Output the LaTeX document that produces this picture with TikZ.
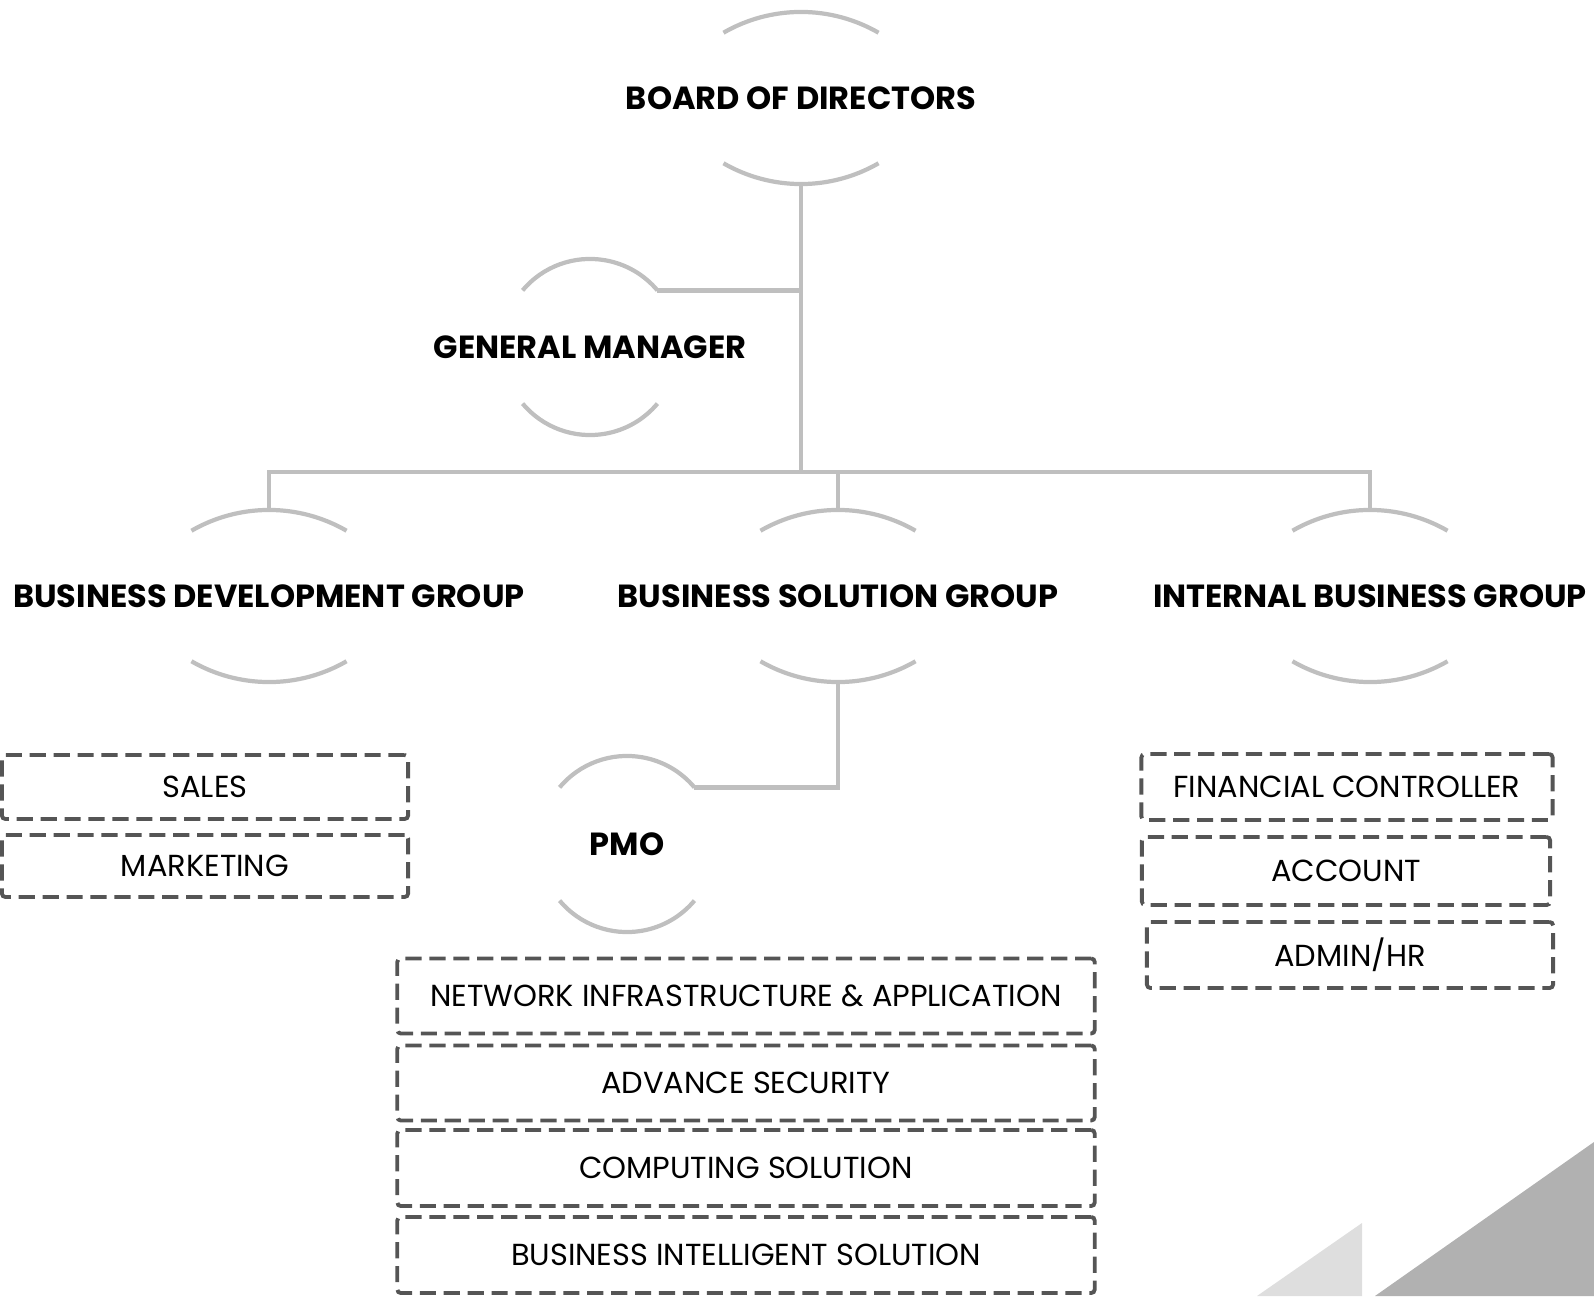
\documentclass[tikz,border=0pt]{standalone}
\usepackage{fontspec}
\setmainfont{Poppins}
\usepackage{tikz}

\definecolor{linkgray}{HTML}{BFBFBF}
\definecolor{boxgray}{HTML}{555555}
\definecolor{paletri}{HTML}{DEDEDE}
\definecolor{darktri}{HTML}{B1B1B1}

\begin{document}
\begin{tikzpicture}[x=0.01cm,y=0.01cm,
  widehead/.style={minimum width=1.56cm,minimum height=1.72cm,inner sep=0pt,outer sep=0pt,
    font=\bfseries\fontsize{9.1}{11}\selectfont},
  roundhead/.style={circle,minimum size=1.76cm,inner sep=0pt,outer sep=0pt},
  headtext/.style={font=\bfseries\fontsize{9.1}{11}\selectfont},
  arcline/.style={draw=linkgray,line width=1.2pt},
  link/.style={draw=linkgray,line width=1.2pt},
  unit/.style={draw=boxgray,line width=1.1pt,dash pattern=on 4.6pt off 2.2pt,
    rounded corners=1pt,inner sep=0pt,font=\fontsize{8.65}{10}\selectfont}]
\useasboundingbox (0,0) rectangle (1594,1296);
\fill[paletri] (1257,0) -- (1362,73) -- (1362,0) -- cycle;
\fill[darktri] (1375,0) -- (1594,154) -- (1594,0) -- cycle;
\node[widehead] (bod) at (801,1198) {BOARD OF DIRECTORS};
\node[roundhead,label={[headtext]center:GENERAL MANAGER}] (gm) at (590,949) {};
\node[widehead] (bdg) at (269,700) {BUSINESS DEVELOPMENT GROUP};
\node[widehead] (bsg) at (838,700) {BUSINESS SOLUTION GROUP};
\node[widehead] (ibg) at (1370,700) {INTERNAL BUSINESS GROUP};
\node[roundhead,label={[headtext]center:PMO}] (pmo) at (627,452) {};
\coordinate (bus) at (801,824);
\foreach \n in {bod,bdg,bsg,ibg}{
  \draw[arcline] (\n.north) arc[start angle=90,end angle=60,radius=1.55cm]
                 (\n.north) arc[start angle=90,end angle=120,radius=1.55cm];
  \draw[arcline] (\n.south) arc[start angle=270,end angle=240,radius=1.55cm]
                 (\n.south) arc[start angle=270,end angle=300,radius=1.55cm];
}
\foreach \n in {gm,pmo}{
  \draw[arcline] (\n.140) arc[start angle=140,end angle=40,radius=0.88cm];
  \draw[arcline] (\n.220) arc[start angle=220,end angle=320,radius=0.88cm];
}
\draw[link] (bod.south) -- (bus);
\draw[link] (gm.40) -- (gm.40 -| bod.south);
\draw[link] (bdg.north) |- (bus) -| (ibg.north);
\draw[link] (bsg.north) -- (bsg.north |- bus);
\draw[link] (bsg.south) |- (pmo.40);
\node[unit,minimum width=4.06cm,minimum height=0.64cm] (sales) at (205,509) {SALES};
\node[unit,minimum width=4.06cm,minimum height=0.62cm] (marketing) at (205,430) {MARKETING};
\node[unit,minimum width=4.11cm,minimum height=0.66cm] (fc) at (1347,509) {FINANCIAL CONTROLLER};
\node[unit,minimum width=4.08cm,minimum height=0.68cm] (account) at (1346,425) {ACCOUNT};
\node[unit,minimum width=4.06cm,minimum height=0.66cm] (adminhr) at (1350,341) {ADMIN/HR};
\node[unit,minimum width=6.97cm,minimum height=0.75cm] (nia) at (746,300) {NETWORK INFRASTRUCTURE \& APPLICATION};
\node[unit,minimum width=6.97cm,minimum height=0.75cm] (advsec) at (746,213) {ADVANCE SECURITY};
\node[unit,minimum width=6.97cm,minimum height=0.76cm] (computing) at (746,128) {COMPUTING SOLUTION};
\node[unit,minimum width=6.97cm,minimum height=0.76cm] (bis) at (746,41) {BUSINESS INTELLIGENT SOLUTION};
\end{tikzpicture}
\end{document}
